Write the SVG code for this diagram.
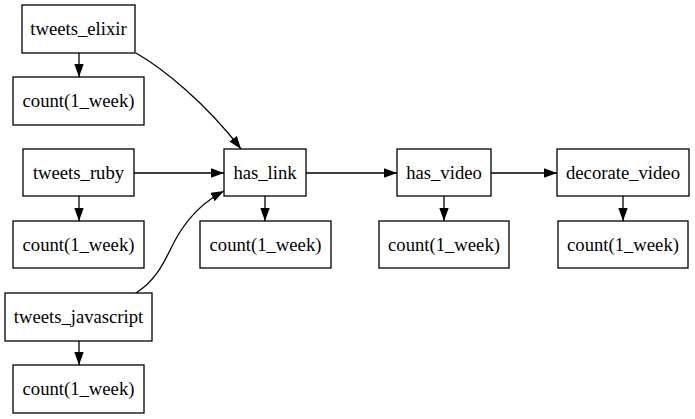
<svg xmlns="http://www.w3.org/2000/svg" width="695" height="419" viewBox="0 0 695 419">
<style>
rect{fill:#fff;stroke:#000;stroke-width:1.3}
text{font-family:"Liberation Serif","DejaVu Serif",serif;font-size:18.67px;text-anchor:middle;fill:#000}
.e{fill:none;stroke:#000;stroke-width:1.3}
</style>
<defs>
<marker id="a" viewBox="0 0 13 9.4" refX="13" refY="4.7" markerWidth="13" markerHeight="9.4" markerUnits="userSpaceOnUse" orient="auto">
<path d="M0,0L13,4.7L0,9.4z" fill="#000"/>
</marker>
</defs>
<rect width="695" height="419" style="stroke:none"/>
<g id="connectors">
<path class="e" marker-end="url(#a)" d="M79,53V77"/>
<path class="e" marker-end="url(#a)" d="M79,196V221"/>
<path class="e" marker-end="url(#a)" d="M79,341V365"/>
<path class="e" marker-end="url(#a)" d="M265,196V221"/>
<path class="e" marker-end="url(#a)" d="M444,196V221"/>
<path class="e" marker-end="url(#a)" d="M623,196V221"/>
<path class="e" marker-end="url(#a)" d="M134,173H224"/>
<path class="e" marker-end="url(#a)" d="M306,173H397"/>
<path class="e" marker-end="url(#a)" d="M491,173H557"/>
<path class="e" marker-end="url(#a)" d="M136,53C162,68 205,102 241,149"/>
<path class="e" marker-end="url(#a)" d="M136,293C162,277 168,250 180,232C192,213 205,201 224,191"/>
</g>
<g id="tweets_elixir"><rect x="22" y="5" width="113" height="48"/><text x="78.5" y="35">tweets_elixir</text></g>
<g id="count_elixir"><rect x="13" y="77" width="131" height="48"/><text x="78.5" y="107">count(1_week)</text></g>
<g id="tweets_ruby"><rect x="23" y="149" width="111" height="47"/><text x="78.5" y="179">tweets_ruby</text></g>
<g id="count_ruby"><rect x="13" y="221" width="131" height="47"/><text x="78.5" y="251">count(1_week)</text></g>
<g id="tweets_javascript"><rect x="5" y="293" width="147" height="48"/><text x="78.5" y="323">tweets_javascript</text></g>
<g id="count_javascript"><rect x="13" y="365" width="131" height="48"/><text x="78.5" y="395">count(1_week)</text></g>
<g id="has_link"><rect x="224" y="149" width="82" height="47"/><text x="265" y="179">has_link</text></g>
<g id="count_has_link"><rect x="200" y="221" width="131" height="47"/><text x="265.5" y="251">count(1_week)</text></g>
<g id="has_video"><rect x="397" y="149" width="94" height="47"/><text x="444" y="179">has_video</text></g>
<g id="count_has_video"><rect x="379" y="221" width="130" height="47"/><text x="444" y="251">count(1_week)</text></g>
<g id="decorate_video"><rect x="557" y="149" width="132" height="47"/><text x="623" y="179">decorate_video</text></g>
<g id="count_decorate_video"><rect x="558" y="221" width="130" height="47"/><text x="623" y="251">count(1_week)</text></g>
</svg>
